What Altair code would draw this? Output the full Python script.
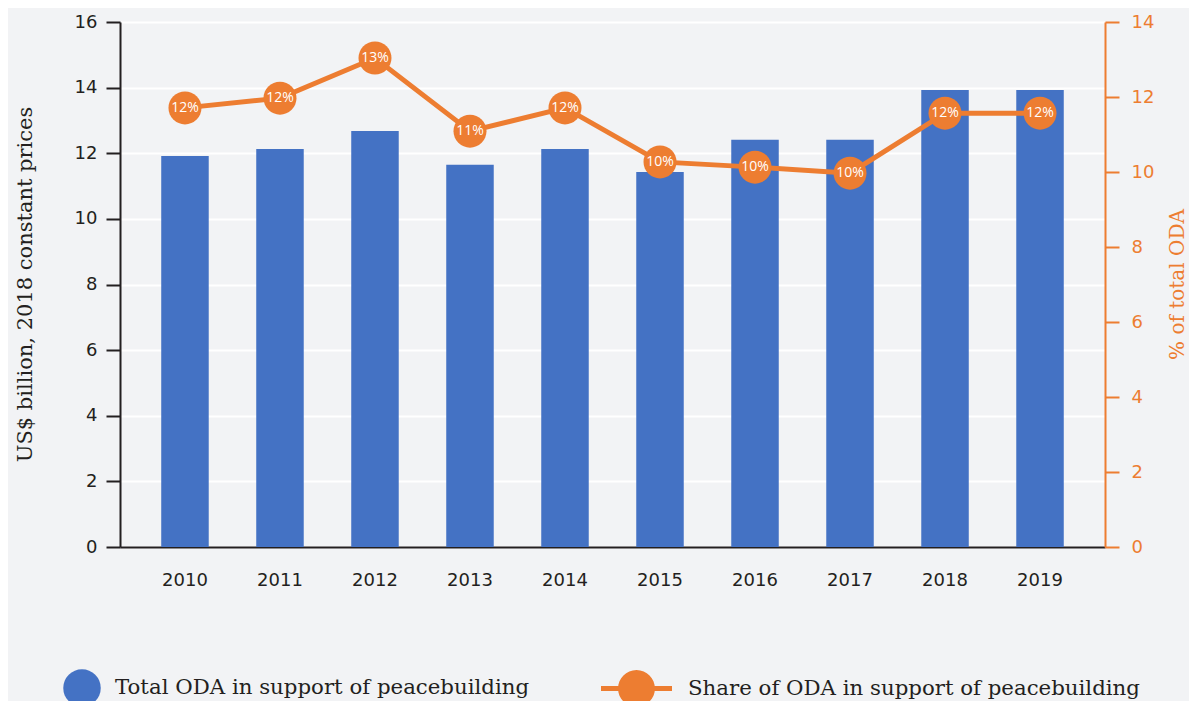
import altair as alt
import pandas as pd

years = ["2010", "2011", "2012", "2013", "2014", "2015", "2016", "2017", "2018", "2019"]
oda_total = [11.92, 12.13, 12.68, 11.65, 12.13, 11.43, 12.41, 12.41, 13.93, 13.93]
oda_share = [11.71, 11.97, 13.04, 11.09, 11.71, 10.27, 10.13, 9.97, 11.57, 11.57]
share_labels = ["12%", "12%", "13%", "11%", "12%", "10%", "10%", "10%", "12%", "12%"]
left_ticks = [0, 2, 4, 6, 8, 10, 12, 14, 16]
right_ticks = [0, 2, 4, 6, 8, 10, 12, 14]

S1 = "Total ODA in support of peacebuilding"
S2 = "Share of ODA in support of peacebuilding"

BLUE = "#4472c4"
ORANGE = "#ed7d31"
BG = "#f2f3f5"
DARK = "#231f20"
TICK_FONT = "DejaVu Sans"
SERIF = "DejaVu Serif"

df = pd.DataFrame({
    "year": years,
    "oda": oda_total,
    "share": oda_share,
    "label": share_labels,
    "s1": [S1] * len(years),
    "s2": [S2] * len(years),
})

x_enc = alt.X(
    "year:N",
    sort=years,
    scale=alt.Scale(paddingInner=0.5, paddingOuter=0.434),
    axis=alt.Axis(
        title=None, labelAngle=0, ticks=False, labelPadding=24,
        domainColor=DARK, domainWidth=2, labelFont=TICK_FONT,
        labelFontSize=18, labelColor=DARK, grid=False,
    ),
)

bars = alt.Chart(df).mark_bar(color=BLUE).encode(
    x=x_enc,
    y=alt.Y(
        "oda:Q",
        scale=alt.Scale(domain=[0, 16], nice=False),
        axis=alt.Axis(
            values=left_ticks, title="US$ billion, 2018 constant prices",
            titleFont=SERIF, titleFontSize=21, titleFontWeight="normal",
            titleColor=DARK, titleAngle=270, titleX=-95, titleY=262,
            titleAlign="center", titleBaseline="middle",
            domainColor=DARK, domainWidth=2, tickColor=DARK, tickWidth=2,
            tickSize=14, labelPadding=9, labelFont=TICK_FONT,
            labelFontSize=18, labelColor=DARK,
            grid=True, gridColor="#ffffff", gridWidth=2,
        ),
    ),
    color=alt.Color(
        "s1:N",
        scale=alt.Scale(domain=[S1], range=[BLUE]),
        legend=alt.Legend(
            title=None, orient="none", legendX=-57, legendY=647,
            symbolType="circle", symbolSize=1406, symbolStrokeWidth=0,
            labelFont=SERIF, labelFontSize=21.3, labelColor=DARK,
            labelOffset=14, padding=0, labelLimit=600,
        ),
    ),
)

y_share = alt.Y(
    "share:Q",
    scale=alt.Scale(domain=[0, 14], nice=False),
    axis=alt.Axis(
        orient="right", values=right_ticks, title="% of total ODA",
        titleFont=SERIF, titleFontSize=20, titleFontWeight="normal",
        titleColor=ORANGE, titleAngle=270, titleX=72, titleY=262,
        titleAlign="center", titleBaseline="middle",
        domainColor=ORANGE, domainWidth=2, tickColor=ORANGE, tickWidth=2,
        tickSize=14, labelPadding=12, labelFont=TICK_FONT,
        labelFontSize=18, labelColor=ORANGE, grid=False,
    ),
)

legend_path = ("M-1,-0.07 L1,-0.07 L1,0.07 L-1,0.07 Z "
               "M0.52,0 A0.52,0.52 0 1,1 -0.52,0 A0.52,0.52 0 1,1 0.52,0 Z")

line = alt.Chart(df).mark_line(color=ORANGE, strokeWidth=5).encode(
    x=alt.X("year:N", sort=years), y=y_share
)
points = alt.Chart(df).mark_circle(size=1089, opacity=1).encode(
    x=alt.X("year:N", sort=years),
    y=alt.Y("share:Q"),
    color=alt.Color(
        "s2:N",
        scale=alt.Scale(domain=[S2], range=[ORANGE]),
        legend=alt.Legend(
            title=None, orient="none", legendX=481, legendY=631,
            symbolType=legend_path, symbolSize=5041, symbolStrokeWidth=0,
            symbolOpacity=1,
            labelFont=SERIF, labelFontSize=21.3, labelColor=DARK,
            labelOffset=16, padding=0, labelLimit=600,
        ),
    ),
)
labels = alt.Chart(df).mark_text(
    color="#ffffff", font="Open Sans", fontSize=14, align="center", baseline="middle"
).encode(
    x=alt.X("year:N", sort=years),
    y=alt.Y("share:Q"),
    text="label:N",
)

right = alt.layer(line, points, labels)

chart = alt.layer(bars, right).resolve_scale(
    y="independent", color="independent"
).properties(
    width=985, height=525,
    background=BG,
    padding={"left": 112, "top": 14, "right": 84, "bottom": 170},
    autosize=alt.AutoSizeParams(type="none"),
).configure_view(stroke=None)

chart.save("out.html", embed_options={"renderer": "svg", "actions": False})
